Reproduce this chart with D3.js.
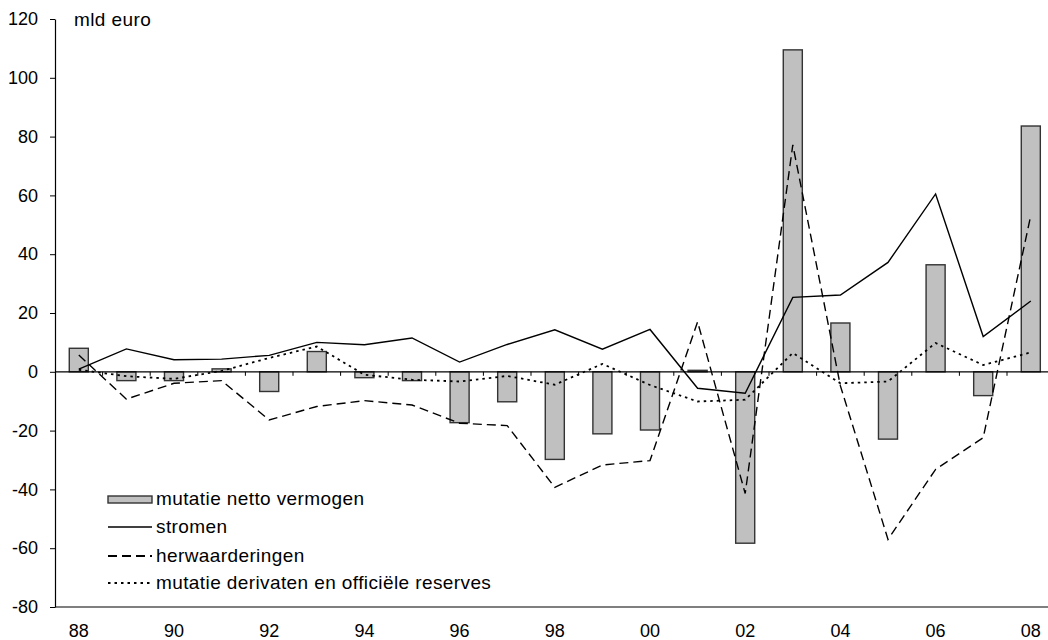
<!DOCTYPE html>
<html>
<head>
<meta charset="utf-8">
<script src="https://cdn.jsdelivr.net/npm/d3@7"></script>
<style>
  html, body { margin: 0; padding: 0; background: #fff; }
  svg { display: block; font-family: "Liberation Sans", Arial, Helvetica, sans-serif; }
</style>
</head>
<body>
<svg id="chart" width="1048" height="640"></svg>
<script>
// Jaren (88 t/m 08)
const years = ["88","89","90","91","92","93","94","95","96","97","98","99","00","01","02","03","04","05","06","07","08"];
const yearLabels = ["88","90","92","94","96","98","00","02","04","06","08"];

// mld euro
const mutatieNettoVermogen = [8, -3, -3, 1, -6.7, 6.9, -2, -3, -17.3, -10.2, -29.8, -21.1, -19.8, 0.5, -58.3, 109.5, 16.6, -22.9, 36.4, -8.1, 83.6];
const stromen = [0.9, 7.8, 4.1, 4.3, 5.6, 10, 9.2, 11.5, 3.3, 9.3, 14.3, 7.7, 14.4, -5.6, -7.3, 25.3, 26.1, 37.2, 60.5, 12, 24.1];
const herwaarderingen = [5.7, -9.3, -3.9, -3, -16.4, -11.8, -9.8, -11.3, -17.5, -18.3, -39.3, -31.7, -30.2, 17, -41.4, 77.2, -4.8, -57, -33.2, -22.4, 53.2];
const derivatenReserves = [0.7, -1.5, -2.4, 0.3, 4.7, 8.6, -1, -2.7, -3.3, -1.4, -4.4, 2.7, -4.5, -10.1, -9.5, 6.4, -3.9, -3.3, 9.8, 2.3, 6.6];

const yTicks = [-80, -60, -40, -20, 0, 20, 40, 60, 80, 100, 120];
const legendItems = ["mutatie netto vermogen", "stromen", "herwaarderingen", "mutatie derivaten en officiële reserves"];

const svg = d3.select("#chart");
const plotLeft = 55, plotTop = 19, plotBottom = 607;
const step = 47.6;

const x = d3.scaleBand()
  .domain(years)
  .range([plotLeft, plotLeft + step * years.length])
  .paddingInner(0.6)
  .paddingOuter(0.3);
const cx = d => x(d) + x.bandwidth() / 2;

const y = d3.scaleLinear().domain([-80, 120]).range([plotBottom, plotTop]);

// Staven
svg.append("g")
  .selectAll("rect")
  .data(years)
  .join("rect")
  .attr("x", d => x(d))
  .attr("width", x.bandwidth())
  .attr("y", (d, i) => y(Math.max(0, mutatieNettoVermogen[i])))
  .attr("height", (d, i) => Math.abs(y(mutatieNettoVermogen[i]) - y(0)))
  .attr("fill", "#c0c0c0")
  .attr("stroke", "#333")
  .attr("stroke-width", 1.4);

// Nullijn met streepjes tussen de jaren
svg.append("line")
  .attr("x1", plotLeft).attr("x2", 1048)
  .attr("y1", y(0)).attr("y2", y(0))
  .attr("stroke", "#000").attr("stroke-width", 1.2);
svg.append("g")
  .selectAll("line")
  .data(years.slice(0, -1))
  .join("line")
  .attr("x1", d => cx(d) + x.step() / 2)
  .attr("x2", d => cx(d) + x.step() / 2)
  .attr("y1", y(0))
  .attr("y2", y(0) + 4)
  .attr("stroke", "#000").attr("stroke-width", 1);

// Lijnen
const line = d3.line().x((d, i) => cx(years[i])).y(d => y(d));
const series = [
  { values: stromen, dash: null, width: 1.4 },
  { values: herwaarderingen, dash: "9,5", width: 1.4 },
  { values: derivatenReserves, dash: "2.5,4", width: 1.8 }
];
series.forEach(s => {
  svg.append("path")
    .datum(s.values)
    .attr("d", line)
    .attr("fill", "none")
    .attr("stroke", "#000")
    .attr("stroke-width", s.width)
    .attr("stroke-dasharray", s.dash);
});

// Y-as
const yAxis = svg.append("g")
  .attr("transform", `translate(${plotLeft},0)`)
  .call(d3.axisLeft(y).tickValues(yTicks).tickSize(5).tickPadding(12).tickFormat(d => String(d)).tickSizeOuter(0));
yAxis.select(".domain").attr("stroke", "#000").attr("stroke-width", 1.2);
yAxis.selectAll(".tick line").attr("stroke", "#000");
yAxis.selectAll("text").attr("font-size", 18).attr("fill", "#000")
  .attr("font-family", "'Liberation Sans', Arial, sans-serif");

// X-as onderaan
svg.append("line")
  .attr("x1", plotLeft).attr("x2", 1048)
  .attr("y1", plotBottom).attr("y2", plotBottom)
  .attr("stroke", "#000").attr("stroke-width", 1.2);
svg.append("g")
  .selectAll("text")
  .data(yearLabels)
  .join("text")
  .attr("x", d => cx(d))
  .attr("y", 637)
  .attr("text-anchor", "middle")
  .attr("font-size", 18)
  .text(d => d);

// Eenheid
svg.append("text")
  .attr("x", 74).attr("y", 26)
  .attr("font-size", 19)
  .attr("letter-spacing", 0.4)
  .text("mld euro");

// Legenda
const lg = svg.append("g");
const rowY = [505, 533, 562, 589];
const swX = 108, swW = 44, txtX = 156;
lg.append("rect")
  .attr("x", swX).attr("y", rowY[0] - 9)
  .attr("width", swW).attr("height", 7)
  .attr("fill", "#c0c0c0").attr("stroke", "#333").attr("stroke-width", 1.4);
[[null, 1.4], ["9,5", 1.8], ["2.5,4", 1.8]].forEach(([dash, w], k) => {
  lg.append("line")
    .attr("x1", swX).attr("x2", swX + swW)
    .attr("y1", rowY[k + 1] - 6).attr("y2", rowY[k + 1] - 6)
    .attr("stroke", "#000").attr("stroke-width", w)
    .attr("stroke-dasharray", dash);
});
lg.selectAll("text")
  .data(legendItems)
  .join("text")
  .attr("x", txtX)
  .attr("y", (d, i) => rowY[i])
  .attr("font-size", 19)
  .attr("letter-spacing", 0.4)
  .text(d => d);
</script>
</body>
</html>
